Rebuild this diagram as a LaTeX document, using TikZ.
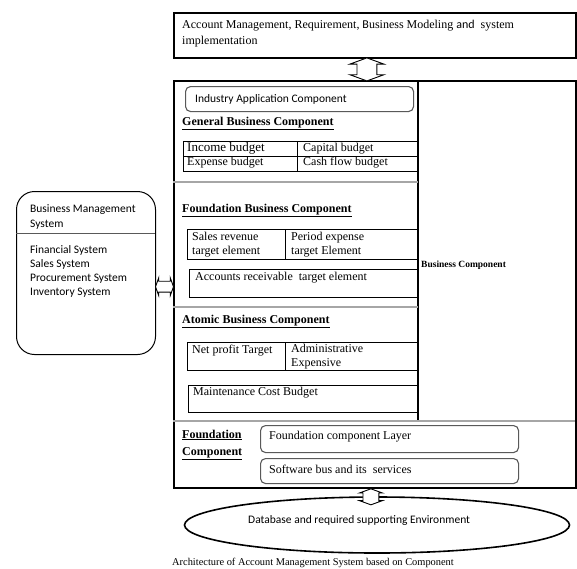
\documentclass[tikz,border=0pt]{standalone}
\usepackage{fontspec}
\setmainfont{Liberation Serif}
\newfontfamily\calfont{Carlito}
\usetikzlibrary{shapes.arrows,shapes.geometric,calc}

\begin{document}
\begin{tikzpicture}[x=1pt, y=-1pt,
	serif/.style={anchor=base west, inner sep=0pt, align=left, font=\fontsize{12}{16}\selectfont},
	head/.style={serif, font=\fontsize{12}{16}\selectfont\bfseries},
	sans/.style={anchor=base west, inner sep=0pt, align=left, font=\calfont\fontsize{11.5}{14}\selectfont},
	frame/.style={draw, line width=1.8pt, anchor=north west},
	cell/.style={draw, line width=0.8pt},
	soft/.style={draw=gray!70!black, line width=1.1pt, rounded corners=5pt, anchor=north west},
	sep/.style={draw=gray!70, line width=1.2pt},
	hollow/.style={double arrow, draw, fill=white, line width=0.9pt, inner xsep=0pt, double arrow tip angle=140}]

	\useasboundingbox (0,0) rectangle (577,568);

	\node[frame, minimum width=402, minimum height=45] (task) at (173,12) {};
	\node[frame, minimum width=402, minimum height=407] (arch) at (173,80) {};
	\node[draw, line width=1pt, rounded corners=18pt, minimum width=139, minimum height=163, anchor=north west] (bms) at (16,191) {};
	\node[draw, ellipse, line width=1.6pt, minimum width=385, minimum height=56] (db) at (377,525) {};

	\draw[line width=1.5pt] (418,80) -- (418,421);
	\draw[sep] (173,421) -- (575,421);
	\draw[sep] (173,182) -- (418,182);
	\draw[sep] (173,307) -- (418,307);
	\draw[draw=gray!70!black, line width=1pt] (16,233) -- (155,233);

	\draw[cell] (183,141) rectangle (418,171) (183,156) -- (418,156) (297,141) -- (297,171);
	\draw[cell] (187,229) rectangle (418,259) (285,229) -- (285,259);
	\draw[cell] (189,269) rectangle (418,297);
	\draw[cell] (187,342) rectangle (418,370) (285,342) -- (285,370);
	\draw[cell] (188,385) rectangle (418,412);

	\node[soft, minimum width=228, minimum height=25] (iac) at (185,86) {};
	\node[soft, minimum width=258, minimum height=27] (fcl) at (260,425) {};
	\node[soft, minimum width=258, minimum height=25] (bus) at (260,458) {};

	\node[hollow, rotate=90, minimum height=23, inner ysep=9.5pt, double arrow head extend=7pt] (up) at ($(task.south)!.5!(arch.north)+(-8,0)$) {};
	\node[hollow, minimum height=18, inner ysep=5pt, double arrow head extend=3.5pt] (side) at ($(bms.east)!.5!(arch.west)+(0,8)$) {};
	\node[hollow, rotate=90, minimum height=16, inner ysep=7.5pt, double arrow head extend=3.5pt] (down) at ($(arch.south)+(-4,8)$) {};

	\node[serif] (tasktxt) at (182,44) {Account Management, Requirement, {\calfont B}usiness Modeling {\calfont and}\ \ system\\implementation};
	\node[sans] (iactxt) at (195,102) {Industry Application Component};
	\node[head] (gbc) at (182,125) {\underline{General Business Component}};
	\node[serif, font=\fontsize{13}{16}\selectfont] (c11) at (187,151) {Income budget};
	\node[serif] (c12) at (303,151) {Capital budget};
	\node[serif] (c21) at (187,165) {Expense budget};
	\node[serif] (c22) at (303,165) {Cash flow budget};
	\node[head] (fbc) at (182,212) {\underline{Foundation Business Component}};
	\node[serif, font=\fontsize{12}{14}\selectfont] (srt) at (192,254) {Sales revenue\\target element};
	\node[serif, font=\fontsize{12}{14}\selectfont] (pet) at (291,254) {Period expense\\target Element};
	\node[serif] (art) at (195,280) {Accounts receivable\ \ target element};
	\node[head] (abc) at (182,323) {\underline{Atomic Business Component}};
	\node[serif] (npt) at (192,353) {Net profit Target};
	\node[serif, font=\fontsize{12}{14}\selectfont] (adm) at (291,366) {Administrative\\Expensive};
	\node[serif] (mcb) at (193,395) {Maintenance Cost Budget};
	\node[head, font=\fontsize{12}{17}\selectfont\bfseries] (fdc) at (182,455) {\underline{Foundation}\\\underline{Component}};
	\node[serif] (fcltxt) at (269,439) {Foundation component Layer};
	\node[serif] (bustxt) at (269,473) {Software bus and its\ \ services};
	\node[head, font=\fontsize{9.5}{10}\selectfont\bfseries] (bc) at (421,267) {Business Component};
	\node[sans, font=\calfont\fontsize{11.5}{15}\selectfont] (bmstxt) at (30,227) {Business Management\\System};
	\node[sans, font=\calfont\fontsize{11.5}{13.7}\selectfont] (systxt) at (30,295) {Financial System\\Sales System\\Procurement System\\Inventory System};
	\node[sans] (dbtxt) at (248,523) {Database and required supporting Environment};
	\node[serif, font=\fontsize{10.4}{12}\selectfont] (cap) at (172,565) {Architecture of Account Management System based on Component};
\end{tikzpicture}
\end{document}
